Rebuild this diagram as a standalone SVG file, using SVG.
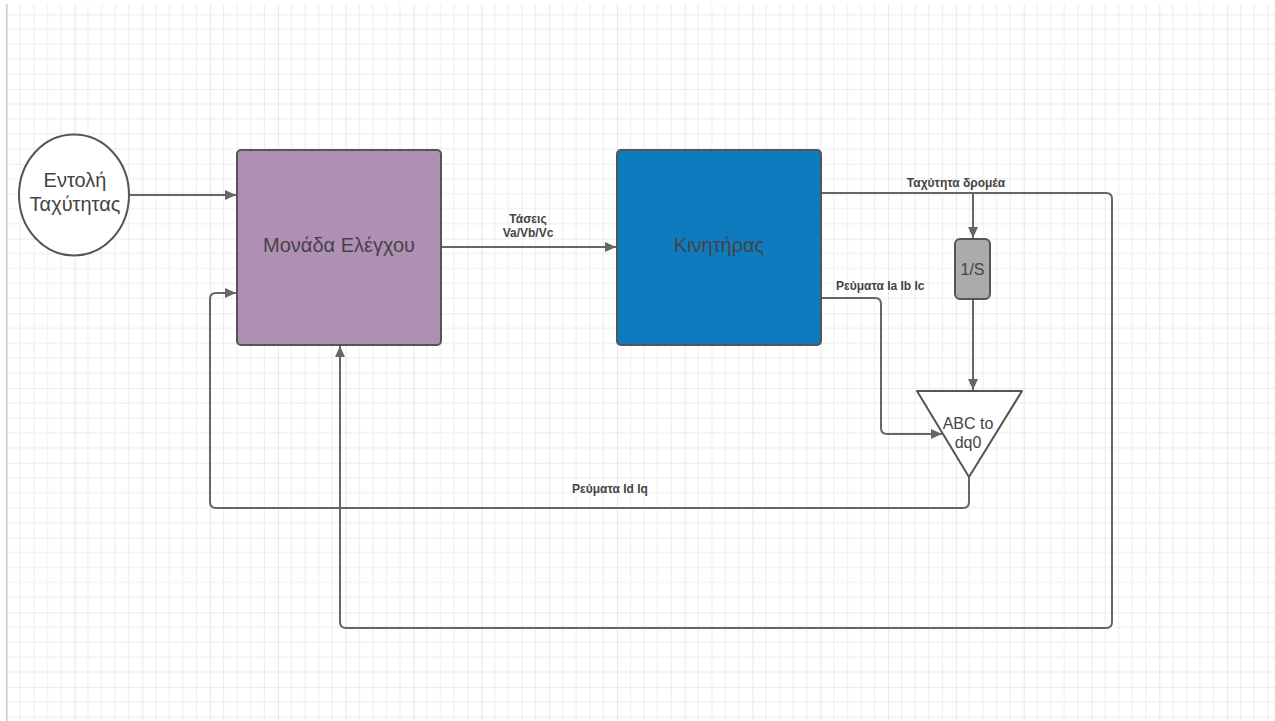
<svg xmlns="http://www.w3.org/2000/svg" width="1275" height="721" viewBox="0 0 1275 721">
  <defs>
    <pattern id="grid" patternUnits="userSpaceOnUse" x="6.7" y="14.3" width="67.8" height="74.75">
      <g stroke="#ececec" stroke-width="1">
        <line x1="13.56" y1="0" x2="13.56" y2="74.75"/>
        <line x1="27.12" y1="0" x2="27.12" y2="74.75"/>
        <line x1="40.68" y1="0" x2="40.68" y2="74.75"/>
        <line x1="54.24" y1="0" x2="54.24" y2="74.75"/>
        <line x1="0" y1="14.95" x2="67.8" y2="14.95"/>
        <line x1="0" y1="29.9" x2="67.8" y2="29.9"/>
        <line x1="0" y1="44.85" x2="67.8" y2="44.85"/>
        <line x1="0" y1="59.8" x2="67.8" y2="59.8"/>
      </g>
      <g stroke="#dadada" stroke-width="1.2">
        <line x1="0" y1="0" x2="0" y2="74.75"/>
        <line x1="0" y1="0" x2="67.8" y2="0"/>
      </g>
    </pattern>
    <marker id="arrow" markerUnits="userSpaceOnUse" markerWidth="12" markerHeight="10" refX="11" refY="5" orient="auto">
      <path d="M0,0 L11,5 L0,10 z" fill="#666"/>
    </marker>
    <style>
      .conn { fill: none; stroke: #666; stroke-width: 2; }
      .node { stroke: #555; stroke-width: 2; }
      .big { font-family: "Liberation Sans", Arial, sans-serif; font-size: 20px; fill: #444; text-anchor: middle; }
      .mid { font-family: "Liberation Sans", Arial, sans-serif; font-size: 16px; fill: #444; text-anchor: middle; }
      .lbl { font-family: "Liberation Sans", Arial, sans-serif; font-size: 12px; font-weight: bold; fill: #444; }
    </style>
  </defs>

  <rect x="0" y="0" width="1275" height="721" fill="#ffffff"/>
  <rect x="7" y="4" width="1268" height="717" fill="url(#grid)"/>
  <line x1="6.7" y1="4" x2="6.7" y2="721" stroke="#d2d2d2" stroke-width="1.6"/>

  <g id="connectors">
    <path class="conn" d="M129,195 H236" marker-end="url(#arrow)"/>
    <path class="conn" d="M441,247 H616" marker-end="url(#arrow)"/>
    <path class="conn" d="M821,193 H1106 Q1112,193 1112,199 V622 Q1112,628 1106,628 H346 Q340,628 340,622 V346" marker-end="url(#arrow)"/>
    <path class="conn" d="M973,193 V238" marker-end="url(#arrow)"/>
    <path class="conn" d="M973,299 V390" marker-end="url(#arrow)"/>
    <path class="conn" d="M821,298 H875 Q881,298 881,304 V428 Q881,434 887,434 H942" marker-end="url(#arrow)"/>
    <path class="conn" d="M969,477 V502 Q969,508 963,508 H216 Q210,508 210,502 V299 Q210,293 216,293 H236" marker-end="url(#arrow)"/>
    <text class="lbl" x="528" y="223" text-anchor="middle">Τάσεις</text>
    <text class="lbl" x="528" y="237" text-anchor="middle">Va/Vb/Vc</text>
    <text class="lbl" x="956" y="187" text-anchor="middle">Ταχύτητα δρομέα</text>
    <text class="lbl" x="836" y="290">Ρεύματα Ia Ib Ic</text>
    <text class="lbl" x="610" y="493" text-anchor="middle">Ρεύματα Id Iq</text>
  </g>

  <g id="speed-command">
    <ellipse class="node" cx="74" cy="195" rx="55" ry="60.5" fill="#ffffff"/>
    <text class="big" x="75" y="187">Εντολή</text>
    <text class="big" x="75" y="211">Ταχύτητας</text>
  </g>

  <g id="control-unit">
    <rect class="node" x="237" y="150" width="204" height="195" rx="4" fill="#b08fb4"/>
    <text class="big" x="339" y="252">Μονάδα Ελέγχου</text>
  </g>

  <g id="motor">
    <rect class="node" x="617" y="150" width="204" height="195" rx="4" fill="#0f7bbf"/>
    <text class="big" x="719" y="252" fill="#333">Κινητήρας</text>
  </g>

  <g id="integrator">
    <rect class="node" x="955" y="239" width="35" height="60" rx="5" fill="#ababab"/>
    <text class="mid" x="972.5" y="275">1/S</text>
  </g>

  <g id="abc-to-dq0">
    <polygon class="node" points="917,391 1022,391 969,477" fill="#ffffff" stroke-linejoin="round"/>
    <text class="mid" x="968" y="429">ABC to</text>
    <text class="mid" x="968" y="448">dq0</text>
  </g>
</svg>
